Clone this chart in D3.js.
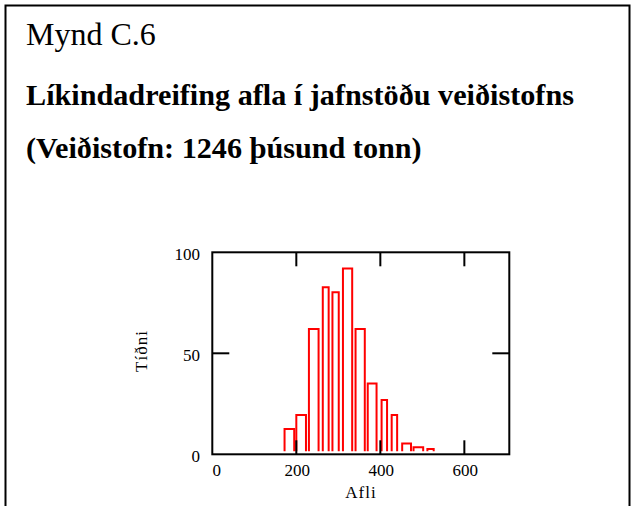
<!DOCTYPE html>
<html>
<head>
<meta charset="utf-8">
<script src="https://cdn.jsdelivr.net/npm/d3@7"></script>
<style>
  html, body { margin: 0; padding: 0; background: #fff; }
  svg { display: block; }
  text { font-family: "Liberation Serif", "Times New Roman", serif; fill: #000; }
</style>
</head>
<body>
<script>
// Histogram of catch (Afli) at equilibrium stock
const binStart = [172, 200, 230, 263, 286, 311, 341, 370, 403, 427, 452, 479, 512];
const binEnd   = [195, 223, 253, 277, 301, 333, 363, 391, 416, 440, 473, 502, 527];
const freq     = [12.5, 19.5, 62, 82.7, 80.2, 92, 62, 35.1, 26.9, 19.5, 5.4, 3.5, 2.6];
const xTicks = [0, 200, 400, 600];
const yTicks = [0, 50, 100];

const W = 631, H = 506;
const svg = d3.select("body").append("svg").attr("width", W).attr("height", H);

// outer frame (open at the bottom)
svg.append("path")
  .attr("d", "M5.5,506 V5.5 H629.5 V506")
  .attr("fill", "none").attr("stroke", "#000").attr("stroke-width", 2);

// titles
svg.append("text").attr("x", 26).attr("y", 45)
  .style("font-size", "32px").text("Mynd C.6");
svg.append("text").attr("x", 26).attr("y", 105)
  .style("font-size", "30.2px").style("font-weight", "bold")
  .text("Líkindadreifing afla í jafnstöðu veiðistofns");
svg.append("text").attr("x", 26).attr("y", 158)
  .style("font-size", "30.2px").style("font-weight", "bold")
  .text("(Veiðistofn: 1246 þúsund tonn)");

// plot area
const L = 212.3, R = 509.3, T = 252.3, B = 454.3;
const x = d3.scaleLinear().domain([0, 707]).range([L, R]);
const y = d3.scaleLinear().domain([0, 100]).range([B, T]);

// bars: outlined, open at the base
const bars = svg.append("g");
freq.forEach((v, i) => {
  const x0 = x(binStart[i]), x1 = x(binEnd[i]);
  const yb = y(0) - 3, yt = y(v);
  bars.append("path")
    .attr("d", `M${x0},${yb} V${yt} H${x1} V${yb}`)
    .attr("fill", "none").attr("stroke", "#ff0000").attr("stroke-width", 2);
});

// frame of the plot
svg.append("rect").attr("x", L).attr("y", T).attr("width", R - L).attr("height", B - T)
  .attr("fill", "none").attr("stroke", "#000").attr("stroke-width", 2);

// inward tick marks on all four sides
const tk = svg.append("g").attr("stroke", "#000").attr("stroke-width", 2);
xTicks.filter(t => t > 0).forEach(t => {
  tk.append("line").attr("x1", x(t)).attr("x2", x(t)).attr("y1", B).attr("y2", B - 14);
  tk.append("line").attr("x1", x(t)).attr("x2", x(t)).attr("y1", T).attr("y2", T + 14);
});
yTicks.filter(t => t > 0 && t < 100).forEach(t => {
  tk.append("line").attr("x1", L).attr("x2", L + 17).attr("y1", y(t)).attr("y2", y(t));
  tk.append("line").attr("x1", R).attr("x2", R - 17).attr("y1", y(t)).attr("y2", y(t));
});

// tick labels
svg.append("g").selectAll("text").data(xTicks).join("text")
  .attr("x", d => d === 0 ? x(d) + 4.5 : x(d) + 1).attr("y", 476)
  .attr("text-anchor", "middle").style("font-size", "17px").text(d => d);
svg.append("g").selectAll("text").data(yTicks).join("text")
  .attr("x", 200).attr("y", d => y(d) + 7.5)
  .attr("text-anchor", "end").style("font-size", "17px").text(d => d);

// axis titles
svg.append("text").attr("x", 361).attr("y", 498).attr("text-anchor", "middle")
  .style("font-size", "17px").style("letter-spacing", "1px").text("Afli");
svg.append("text").attr("transform", "translate(147,351) rotate(-90)")
  .attr("text-anchor", "middle").style("font-size", "17px").style("letter-spacing", "1px")
  .text("Tíðni");
</script>
</body>
</html>
